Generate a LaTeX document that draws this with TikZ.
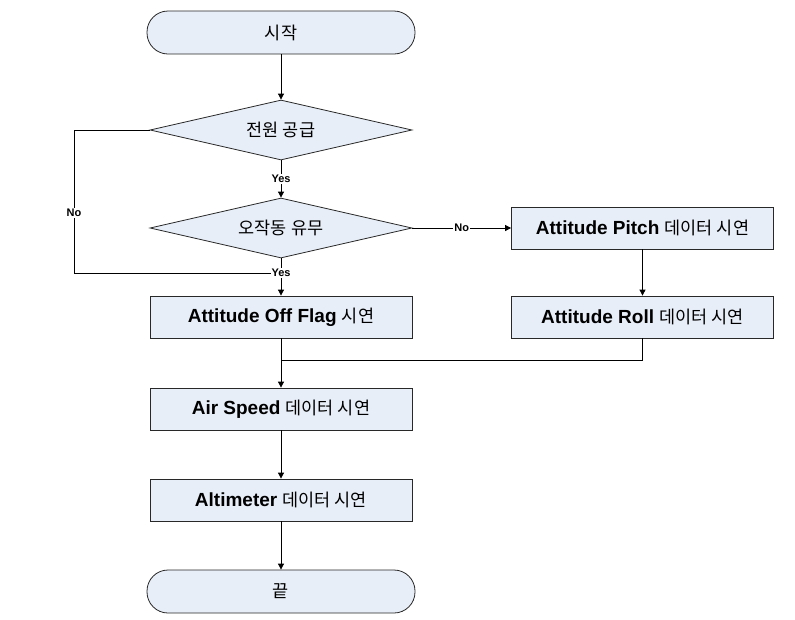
\documentclass[tikz,border=0pt]{standalone}
\usepackage{fontspec}
\setmainfont{Liberation Sans}
\newfontfamily\krf{Noto Sans CJK KR}
\usetikzlibrary{arrows.meta,shapes.geometric}
\definecolor{boxfill}{RGB}{232,238,248}
\definecolor{boxline}{RGB}{40,40,40}
\newcommand{\kr}[1]{{\krf\mdseries\fontsize{17.5}{20}\selectfont #1}}
\begin{document}
\begin{tikzpicture}[x=1pt,y=-1pt,
  base/.style={draw=boxline,fill=boxfill,line width=0.8pt,font=\fontsize{19}{22}\selectfont\bfseries,inner sep=0pt},
  term/.style={base,minimum width=268pt,minimum height=43pt,rounded corners=21pt},
  proc/.style={base,minimum width=262pt,minimum height=42pt},
  dec/.style={base,diamond,aspect=4.4,minimum width=262pt,minimum height=60pt},
  lbl/.style={fill=white,inner sep=1pt,font=\fontsize{11}{13}\selectfont\bfseries},
  arr/.style={-{Triangle[length=6pt,width=6pt]}},
  every path/.style={line width=0.8pt}]
\useasboundingbox (0,0) rectangle (795,619);
\node[term] (start) at (281,32.5) {\kr{시작}};
\node[dec] (d1) at (281,130) {\kr{전원 공급}};
\node[dec] (d2) at (281,228) {\kr{오작동 유무}};
\node[proc] (pitch) at (642.5,228) {Attitude Pitch \kr{데이터 시연}};
\node[proc] (roll) at (642.5,317) {Attitude Roll \kr{데이터 시연}};
\node[proc] (off) at (281,317) {Attitude Off Flag \kr{시연}};
\node[proc] (air) at (281,409) {Air Speed \kr{데이터 시연}};
\node[proc] (alt) at (281,500) {Altimeter \kr{데이터 시연}};
\node[term] (end) at (281,591.5) {\kr{끝}};
\coordinate (yj) at (281,273);
\coordinate (lc) at (74,273);
\coordinate (mj) at (281,360);
\draw[arr] (start) -- (d1);
\draw[arr] (d1.south) -- node[lbl]{Yes} (d2.north);
\draw[arr] (d2.east) -- node[lbl]{No} (pitch.west);
\draw[arr] (pitch) -- (roll);
\draw (d1.west) -| (lc) -- (yj);
\node[lbl] (nolbl) at (74,213) {No};
\draw (d2.south) -- (yj);
\draw[arr] (yj) -- (off.north);
\node[lbl] (yeslbl) at (yj) {Yes};
\draw (roll.south) |- (mj);
\draw[arr] (off.south) -- (air.north);
\draw[arr] (air) -- (alt);
\draw[arr] (alt) -- (end);
\end{tikzpicture}
\end{document}
